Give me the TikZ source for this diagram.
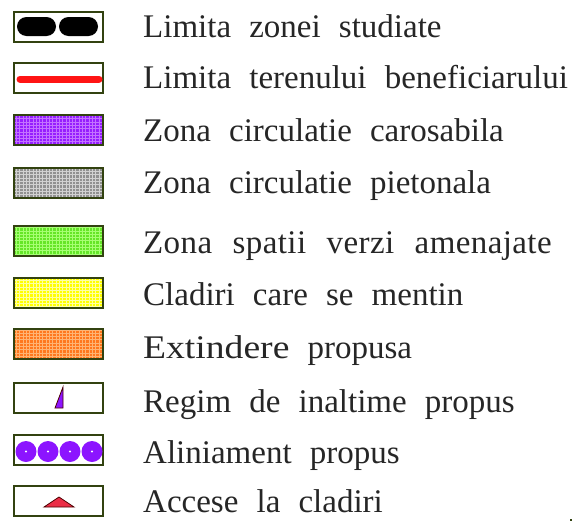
\documentclass[tikz,border=0pt]{standalone}
\usepackage{graphicx}
\usepackage{fontspec}
\setmainfont{Liberation Serif}[WordSpace=2.2]
\definecolor{framec}{RGB}{50,66,16}
\definecolor{purpA}{RGB}{150,30,255}
\definecolor{purpB}{RGB}{195,115,255}
\definecolor{grayA}{RGB}{145,145,145}
\definecolor{grayB}{RGB}{210,210,210}
\definecolor{greenA}{RGB}{100,230,40}
\definecolor{greenB}{RGB}{165,255,115}
\definecolor{yellA}{RGB}{255,255,0}
\definecolor{yellB}{RGB}{255,255,160}
\definecolor{orA}{RGB}{255,120,30}
\definecolor{orB}{RGB}{255,180,115}
\definecolor{dotc}{RGB}{140,20,255}
\definecolor{redl}{RGB}{255,20,20}
\definecolor{accc}{RGB}{235,45,70}
\newcommand\mygridbox[3]{%
  \begin{scope}
    \clip (14,#1) rectangle (103,#1+30);
    \fill[#2] (14,#1) rectangle (103,#1+30);
    \draw[#3, line width=1pt, step=3.3pt] (14,#1) grid (103,#1+30);
  \end{scope}
  \draw[frame] (14,#1) rectangle (103,#1+30);}
\begin{document}
\begin{tikzpicture}[x=1pt,y=-1pt,
  frame/.style={draw=framec, line width=2.4pt},
  lbl/.style={anchor=base west, inner sep=0pt, font=\fontsize{33}{40}\selectfont, text=black!85}]
\useasboundingbox[fill=white] (0,0) rectangle (573,522);
% row 1
\draw[frame, fill=white] (14,12) rectangle (103,42);
\fill[black, rounded corners=9.5pt] (17,17) rectangle (56,36);
\fill[black, rounded corners=9.5pt] (59,17) rectangle (98,36);
\node[lbl] (t1) at (143,37) {Limita zonei studiate};
% row 2
\draw[frame, fill=white] (14,63) rectangle (103,93);
\draw[redl, line width=7pt, line cap=round] (20,79) -- (99,79);
\node[lbl] (t2) at (143,88) {Limita terenului beneficiarului};
% row 3
\mygridbox{115}{purpA}{purpB}
\node[lbl] (t3) at (143,141) {Zona circulatie carosabila};
% row 4
\mygridbox{168}{grayA}{grayB}
\node[lbl] (t4) at (143,193) {Zona circulatie pietonala};
% row 5
\mygridbox{226}{greenA}{greenB}
\node[lbl] (t5) at (143,253) {\addfontfeature{LetterSpace=1.2}\spaceskip=20.5pt Zona spatii verzi amenajate};
% row 6
\mygridbox{278}{yellA}{yellB}
\node[lbl] (t6) at (143,305) {Cladiri care se mentin};
% row 7
\mygridbox{329}{orA}{orB}
\node[lbl] (t7) at (143,358) {\scalebox{1.14}[1]{Extindere} propusa};
% row 8
\draw[frame, fill=white] (14,383) rectangle (103,413);
\filldraw[fill=dotc, draw=black!70!red, line width=0.8pt] (63,387) -- (63,408) -- (55,408) -- cycle;
\node[lbl] (t8) at (143,412) {Regim de inaltime propus};
% row 9
\draw[frame, fill=white] (14,435) rectangle (103,465);
\foreach \cx in {26,48,70,92}{
  \fill[dotc] (\cx,451.5) circle (10.5);
  \fill[white] (\cx,451.5) circle (1.1);
}
\node[lbl] (t9) at (143,463) {Aliniament propus};
% row 10
\draw[frame, fill=white] (14,486) rectangle (103,516);
\filldraw[fill=accc, draw=black!70!red, line width=0.8pt] (59,497) -- (74,507) -- (44,507) -- cycle;
\node[lbl] (t10) at (143,512) {Accese la cladiri};
\fill[framec] (570,519) rectangle (572,521);
\end{tikzpicture}
\end{document}
